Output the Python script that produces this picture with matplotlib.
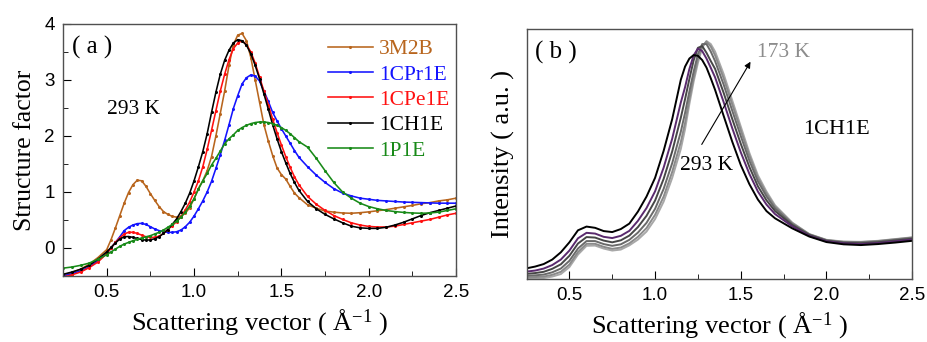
import matplotlib
matplotlib.use('Agg')
import matplotlib.pyplot as plt
from matplotlib.ticker import MultipleLocator

plt.rcParams['font.family'] = 'Liberation Sans'
plt.rcParams['mathtext.fontset'] = 'custom'
plt.rcParams['mathtext.rm'] = 'Liberation Serif'
plt.rcParams['mathtext.it'] = 'Liberation Serif:italic'
serif = 'Liberation Serif'

# ---- panel (a): structure factor at 293 K ----
q_a = [0.25, 0.3, 0.35, 0.4, 0.45, 0.5,
       0.525, 0.55, 0.575, 0.6, 0.625, 0.65, 0.675, 0.7, 0.725, 0.75,
       0.775, 0.8, 0.825, 0.85, 0.875, 0.9, 0.925, 0.95, 0.975, 1.0,
       1.025, 1.05, 1.075, 1.1, 1.125, 1.15, 1.175, 1.2, 1.225, 1.25, 1.275, 1.3,
       1.325, 1.35, 1.375, 1.4, 1.425, 1.45, 1.475, 1.5, 1.525, 1.55, 1.575, 1.6,
       1.65, 1.7, 1.75, 1.8, 1.85, 1.9, 1.95, 2.0, 2.05, 2.1, 2.15, 2.2, 2.25, 2.3, 2.35, 2.4, 2.45, 2.5]

s_3m2b = [-0.48, -0.44, -0.38, -0.29, -0.17, -0.03,
          0.15, 0.36, 0.58, 0.8, 0.99, 1.13, 1.21, 1.2, 1.1, 0.97,
          0.85, 0.74, 0.65, 0.6, 0.565, 0.55, 0.57, 0.62, 0.72, 0.88,
          1.06, 1.2, 1.38, 1.63, 2.0, 2.4, 2.8, 3.26, 3.63, 3.8, 3.83, 3.7,
          3.4, 3.0, 2.6, 2.2, 1.91, 1.65, 1.43, 1.31, 1.23, 1.1, 0.98, 0.9,
          0.77, 0.71, 0.66, 0.64, 0.625, 0.62, 0.63, 0.645, 0.665, 0.685, 0.71, 0.735, 0.76, 0.79, 0.81, 0.84, 0.86, 0.89]
s_1cpr1e = [-0.5, -0.46, -0.41, -0.34, -0.23, -0.1,
            0.0, 0.1, 0.2, 0.31, 0.37, 0.41, 0.435, 0.44, 0.42, 0.38,
            0.34, 0.31, 0.29, 0.28, 0.28, 0.29, 0.32, 0.38, 0.46, 0.57,
            0.7, 0.84, 1.0, 1.19, 1.42, 1.66, 1.92, 2.2, 2.49, 2.72, 2.93, 3.04,
            3.09, 3.07, 2.98, 2.8, 2.62, 2.42, 2.27, 2.13, 2.0, 1.87, 1.74, 1.62,
            1.45, 1.3, 1.17, 1.06, 0.98, 0.93, 0.89, 0.87, 0.85, 0.84, 0.83, 0.82, 0.815, 0.81, 0.805, 0.8, 0.8, 0.8]
s_1cpe1e = [-0.52, -0.48, -0.43, -0.35, -0.25, -0.1,
            0.0, 0.1, 0.18, 0.25, 0.28, 0.28, 0.26, 0.23, 0.2, 0.19,
            0.19, 0.21, 0.26, 0.33, 0.4, 0.47, 0.56, 0.68, 0.82, 1.0,
            1.2, 1.45, 1.76, 2.1, 2.45, 2.8, 3.1, 3.36, 3.56, 3.66, 3.7, 3.63,
            3.5, 3.3, 3.05, 2.8, 2.56, 2.3, 2.06, 1.84, 1.63, 1.44, 1.27, 1.13,
            0.92, 0.78, 0.67, 0.58, 0.51, 0.45, 0.41, 0.385, 0.375, 0.375, 0.39, 0.42, 0.45, 0.48, 0.51, 0.55, 0.59, 0.62]
s_1ch1e = [-0.47, -0.43, -0.38, -0.31, -0.2, -0.07,
           0.01, 0.09, 0.16, 0.2, 0.205, 0.19, 0.17, 0.15, 0.14, 0.145,
           0.165, 0.2, 0.26, 0.33, 0.42, 0.52, 0.65, 0.8, 0.98, 1.2,
           1.45, 1.72, 2.04, 2.42, 2.78, 3.1, 3.35, 3.53, 3.66, 3.72, 3.7, 3.62,
           3.47, 3.26, 3.02, 2.75, 2.48, 2.2, 1.95, 1.72, 1.52, 1.33, 1.17, 1.03,
           0.83, 0.7, 0.6, 0.52, 0.45, 0.39, 0.36, 0.35, 0.35, 0.37, 0.41, 0.46, 0.52, 0.58, 0.63, 0.67, 0.71, 0.75]
s_1p1e = [-0.36, -0.34, -0.31, -0.27, -0.2, -0.12,
          -0.07, -0.02, 0.03, 0.07, 0.1, 0.13, 0.155, 0.18, 0.2, 0.22,
          0.25, 0.28, 0.32, 0.37, 0.42, 0.48, 0.55, 0.64, 0.75, 0.88,
          1.05, 1.2, 1.33, 1.48, 1.6, 1.73, 1.86, 1.95, 2.02, 2.1, 2.15, 2.19,
          2.22, 2.24, 2.25, 2.25, 2.24, 2.22, 2.19, 2.15, 2.1, 2.04, 1.97, 1.9,
          1.8, 1.6, 1.38, 1.17, 1.0, 0.89, 0.8, 0.74, 0.7, 0.67, 0.65, 0.635, 0.625, 0.62, 0.625, 0.64, 0.67, 0.7]

names_a = ['3M2B', '1CPr1E', '1CPe1E', '1CH1E', '1P1E']
colors_a = ['#b8651d', '#1414ff', '#ff1010', '#000000', '#188a18']
series_a = [s_3m2b, s_1cpr1e, s_1cpe1e, s_1ch1e, s_1p1e]

# ---- panel (b): 1CH1E intensity from 293 K to 173 K ----
q_b = [0.25, 0.3, 0.35, 0.4, 0.45, 0.5, 0.55, 0.6, 0.65, 0.7, 0.75, 0.8, 0.85, 0.9, 0.95, 1.0,
       1.05, 1.1, 1.15, 1.175, 1.2, 1.225, 1.25, 1.275, 1.3, 1.325, 1.35, 1.4, 1.45, 1.5,
       1.55, 1.6, 1.65, 1.7, 1.8, 1.9, 2.0, 2.1, 2.2, 2.3, 2.4, 2.5]

i_293 = [0.043, 0.05, 0.06, 0.078, 0.107, 0.147, 0.195, 0.21, 0.205, 0.192, 0.188, 0.2, 0.222, 0.27, 0.33, 0.405,
         0.513, 0.64, 0.797, 0.85, 0.882, 0.896, 0.893, 0.876, 0.846, 0.803, 0.757, 0.653, 0.55, 0.456,
         0.38, 0.318, 0.272, 0.243, 0.203, 0.17, 0.148, 0.139, 0.136, 0.14, 0.146, 0.153]
i_2 = [0.030, 0.034, 0.042, 0.056, 0.078, 0.114, 0.163, 0.185, 0.182, 0.169, 0.164, 0.173, 0.193, 0.233, 0.284, 0.351,
       0.446, 0.562, 0.706, 0.768, 0.84, 0.895, 0.922, 0.912, 0.882, 0.845, 0.807, 0.708, 0.604, 0.507,
       0.421, 0.35, 0.298, 0.26, 0.211, 0.173, 0.151, 0.143, 0.14, 0.144, 0.151, 0.158]
i_3 = [0.021, 0.024, 0.029, 0.041, 0.059, 0.093, 0.142, 0.168, 0.166, 0.154, 0.147, 0.155, 0.174, 0.208, 0.253, 0.314,
       0.401, 0.511, 0.645, 0.72, 0.80, 0.875, 0.925, 0.932, 0.905, 0.872, 0.841, 0.745, 0.641, 0.541,
       0.449, 0.371, 0.315, 0.272, 0.216, 0.176, 0.153, 0.145, 0.143, 0.147, 0.154, 0.161]
i_4 = [0.013, 0.015, 0.018, 0.027, 0.042, 0.073, 0.122, 0.152, 0.152, 0.14, 0.133, 0.139, 0.157, 0.186, 0.225, 0.281,
       0.361, 0.464, 0.589, 0.665, 0.75, 0.83, 0.9, 0.94, 0.94, 0.91, 0.872, 0.778, 0.674, 0.572,
       0.474, 0.391, 0.331, 0.282, 0.22, 0.178, 0.155, 0.147, 0.146, 0.15, 0.157, 0.164]
i_5 = [0.007, 0.008, 0.010, 0.017, 0.029, 0.058, 0.108, 0.141, 0.141, 0.129, 0.121, 0.126, 0.143, 0.169, 0.204, 0.257,
       0.330, 0.429, 0.548, 0.625, 0.72, 0.805, 0.88, 0.932, 0.95, 0.93, 0.895, 0.803, 0.699, 0.595,
       0.493, 0.405, 0.342, 0.29, 0.224, 0.179, 0.156, 0.149, 0.148, 0.152, 0.159, 0.166]
i_173 = [0.003, 0.003, 0.004, 0.01, 0.02, 0.048, 0.098, 0.133, 0.134, 0.122, 0.114, 0.118, 0.135, 0.158, 0.19, 0.24,
         0.31, 0.405, 0.52, 0.60, 0.70, 0.79, 0.865, 0.925, 0.952, 0.94, 0.91, 0.82, 0.715, 0.61,
         0.505, 0.415, 0.35, 0.295, 0.226, 0.18, 0.157, 0.15, 0.149, 0.153, 0.16, 0.167]

series_b = [i_173, i_5, i_4, i_3, i_2, i_293]
colors_b = ['#a8a8a8', '#8a8a8a', '#6a6a6a', '#464646', '#5a2a6e', '#000000']

fig = plt.figure(figsize=(9.27, 3.42), dpi=100)
ax1 = fig.add_axes([0.068, 0.193, 0.424, 0.737])
ax2 = fig.add_axes([0.568, 0.184, 0.416, 0.731])

for name, col, s in zip(names_a, colors_a, series_a):
    ax1.plot(q_a, s, color=col, lw=1.15, marker='o', ms=1.2, label=name)

ax1.set_xlim(0.25, 2.5)
ax1.set_ylim(-0.5, 4)
ax1.xaxis.set_minor_locator(MultipleLocator(0.25))
ax1.yaxis.set_major_locator(MultipleLocator(1))
ax1.yaxis.set_minor_locator(MultipleLocator(0.5))
ax1.set_xticks([0.5, 1.0, 1.5, 2.0, 2.5])
ax1.set_xticklabels(['0.5', '1.0', '1.5', '2.0', '2.5'])
ax1.set_ylabel('Structure factor', fontfamily=serif, fontsize=18.5, labelpad=6)
ax1.set_xlabel('Scattering vector ( Å$^{\\mathrm{-1}}$ )', fontfamily=serif, fontsize=19, labelpad=4)
ax1.text(0.3, 3.58, '( a )', fontfamily=serif, fontsize=18, va='center')
ax1.text(0.5, 2.48, '293 K', fontfamily=serif, fontsize=15.5, va='center')
ax1.legend(loc='upper left', bbox_to_anchor=(0.635, 1.0), frameon=False,
           prop={'family': serif, 'size': 15.5}, handlelength=2.1, handletextpad=0.3,
           labelspacing=0.25, borderaxespad=0.3, labelcolor='linecolor')

for s, col in zip(series_b, colors_b):
    ax2.plot(q_b, s, color=col, lw=1.4)

ax2.set_xlim(0.25, 2.5)
ax2.set_ylim(0, 1)
ax2.xaxis.set_minor_locator(MultipleLocator(0.25))
ax2.set_xticks([0.5, 1.0, 1.5, 2.0, 2.5])
ax2.set_xticklabels(['0.5', '1.0', '1.5', '2.0', '2.5'])
ax2.set_yticks([])
ax2.set_ylabel('Intensity ( a.u. )', fontfamily=serif, fontsize=19, labelpad=8)
ax2.set_xlabel('Scattering vector ( Å$^{\\mathrm{-1}}$ )', fontfamily=serif, fontsize=19, labelpad=4)
ax2.text(0.30, 0.908, '( b )', fontfamily=serif, fontsize=18, va='center')
ax2.text(1.596, 0.908, '173 K', fontfamily=serif, fontsize=15.5, va='center', color='#8c8c8c')
ax2.text(1.147, 0.456, '293 K', fontfamily=serif, fontsize=15.5, va='center')
ax2.text(1.865, 0.598, '1CH1E', fontfamily=serif, fontsize=16, va='center')
ax2.annotate('', xy=(1.565, 0.879), xytext=(1.264, 0.529),
             arrowprops=dict(arrowstyle='-|>', color='k', lw=0.8, mutation_scale=9))

for ax in (ax1, ax2):
    for sp in ax.spines.values():
        sp.set_color('#505050')
        sp.set_linewidth(1.0)
    ax.tick_params(which='both', direction='in', top=False, right=False, labelsize=13.5, pad=6)
    ax.tick_params(which='major', length=6)
    ax.tick_params(which='minor', length=3.5)

plt.savefig('out.png', dpi=100)
